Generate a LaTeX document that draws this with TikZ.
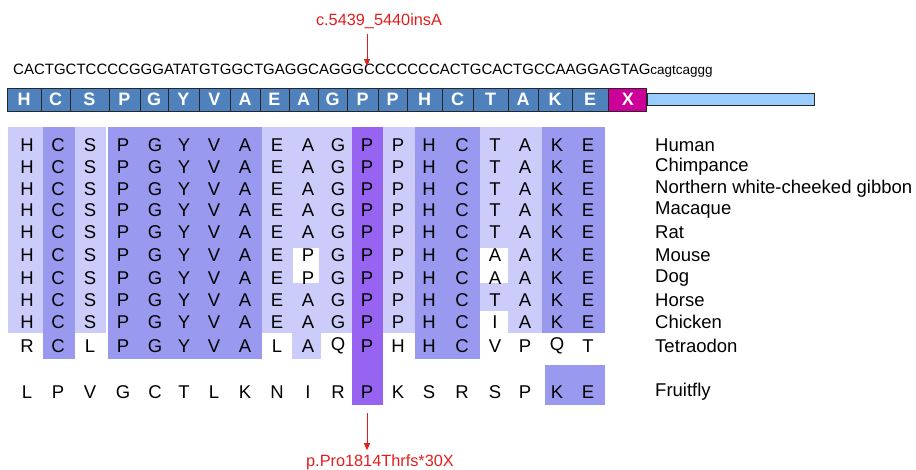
\documentclass[tikz,border=0pt]{standalone}
\usepackage{fontspec}
\setmainfont{Liberation Sans}
\usetikzlibrary{positioning, arrows.meta}
\definecolor{lite}{RGB}{204,204,250}
\definecolor{medium}{RGB}{153,153,240}
\definecolor{prol}{RGB}{150,100,240}
\definecolor{protblue}{RGB}{79,129,189}
\definecolor{stopmag}{RGB}{204,0,153}
\definecolor{tailblue}{RGB}{153,204,255}
\definecolor{mutred}{RGB}{225,30,30}
\def\colxs{{27,58,90,123,155,184,214,245,277,308,338,367,398,429,462,495,525,557,588}}

\begin{document}
\begin{tikzpicture}[x=1pt, y=-1pt,
  res/.style={font=\fontsize{18.5}{18.5}\selectfont, inner sep=0pt},
  species/.style={font=\fontsize{18.5}{18.5}\selectfont, inner sep=0pt, anchor=west},
  aa/.style={draw=black!85, fill=protblue, line width=.8pt, text=white,
             font=\fontsize{18}{18}\selectfont\bfseries, inner sep=0pt,
             minimum height=23},
  mut/.style={font=\fontsize{16.3}{16.3}\selectfont, text=mutred, inner sep=0pt},
  mutarrow/.style={draw=mutred, line width=.8pt, -{Triangle[length=7pt, width=6pt]}},
]
\useasboundingbox (0,0) rectangle (916,469);

% conservation shading
\foreach \a/\b/\t/\u in {8/43/127/333, 75/106/127/333, 262/352/127/333,
    292/321/333/359, 383/415/127/333, 480/542/127/333}
  \fill[lite] (\a,\t) rectangle (\b,\u);
\foreach \a/\b/\t/\u in {43/75/127/359, 108/262/127/359, 415/480/127/359,
    542/605/127/333, 545/605/365/405}
  \fill[medium] (\a,\t) rectangle (\b,\u);
\fill[prol] (352,127) rectangle (383,405);
\foreach \a/\b/\t/\u in {293/319/248/283, 480/508/248/283, 480/508/311/333}
  \fill[white] (\a,\t) rectangle (\b,\u);

% alignment
\foreach \sp/\y/\seq [count=\r] in {
    Human/145/{H,C,S,P,G,Y,V,A,E,A,G,P,P,H,C,T,A,K,E},
    Chimpance/167/{H,C,S,P,G,Y,V,A,E,A,G,P,P,H,C,T,A,K,E},
    Northern white-cheeked gibbon/189/{H,C,S,P,G,Y,V,A,E,A,G,P,P,H,C,T,A,K,E},
    Macaque/210/{H,C,S,P,G,Y,V,A,E,A,G,P,P,H,C,T,A,K,E},
    Rat/232/{H,C,S,P,G,Y,V,A,E,A,G,P,P,H,C,T,A,K,E},
    Mouse/255/{H,C,S,P,G,Y,V,A,E,P,G,P,P,H,C,A,A,K,E},
    Dog/278/{H,C,S,P,G,Y,V,A,E,P,G,P,P,H,C,A,A,K,E},
    Horse/300/{H,C,S,P,G,Y,V,A,E,A,G,P,P,H,C,T,A,K,E},
    Chicken/322/{H,C,S,P,G,Y,V,A,E,A,G,P,P,H,C,I,A,K,E},
    Tetraodon/346/{R,C,L,P,G,Y,V,A,L,A,Q,P,H,H,C,V,P,Q,T},
    Fruitfly/392/{L,P,V,G,C,T,L,K,N,I,R,P,K,S,R,S,P,K,E}}{
  \foreach \l [count=\c] in \seq{
    \pgfmathsetmacro{\x}{\colxs[\c-1]}
    \node[res] (r\r c\c) at (\x,\y) {\l};
  }
  \node[species] (sp\r) at (655,\y) {\sp};
}

% DNA and protein
\node[font=\fontsize{15}{15}\selectfont, inner sep=0pt, anchor=west] (dna) at (13,71)
  {CACTGCTCCCCGGGATATGTGGCTGAGGCAGGGCCCCCCCACTGCACTGCCAAGGAGTAG\fontsize{13.5}{13.5}\selectfont cagtcaggg};
\foreach \l/\a/\b [count=\i] in {H/7/41, C/41/70, S/70/109, P/109/140, G/140/168,
    Y/168/199, V/199/230, A/230/260, E/260/289, A/289/318, G/318/347, P/347/378,
    P/378/407, H/407/442, C/442/473, T/473/508, A/508/538, K/538/572, E/572/608}
  \node[aa, minimum width={\b-\a}] (aa\i) at ({(\a+\b)/2},99.5) {\l};
\node[aa, fill=stopmag, minimum width=38, right=0pt of aa19] (stop) {X};
\node[draw=black!85, fill=tailblue, line width=.8pt, minimum width=167,
      minimum height=12, inner sep=0pt, anchor=west] (tail) at (stop.east) {};

% mutation labels
\node[mut] (ins) at (379,21) {c.5439\_5440insA};
\coordinate (instip) at (367,66);
\draw[mutarrow] (instip |- ins.south) ++(0,5) -- (instip);
\node[mut] (fs) at (380,462) {p.Pro1814Thrfs*30X};
\coordinate (fsroot) at (367,413);
\draw[mutarrow] (fsroot) -- ([yshift=4pt]fsroot |- fs.north);
\end{tikzpicture}
\end{document}
